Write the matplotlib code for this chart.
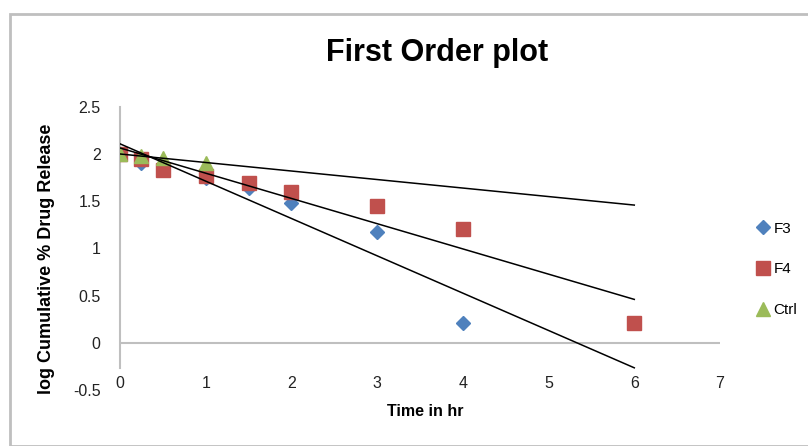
import matplotlib
matplotlib.use("Agg")
import matplotlib.pyplot as plt
import numpy as np
from matplotlib.patches import Rectangle

# Data
t_f3 = [0, 0.25, 0.5, 1, 1.5, 2, 3, 4]
y_f3 = [2.0, 1.91, 1.86, 1.75, 1.64, 1.48, 1.18, 0.21]
t_f4 = [0, 0.25, 0.5, 1, 1.5, 2, 3, 4, 6]
y_f4 = [2.0, 1.95, 1.83, 1.77, 1.69, 1.60, 1.45, 1.21, 0.21]
t_ctrl = [0, 0.25, 0.5, 1]
y_ctrl = [2.0, 1.98, 1.96, 1.91]
x_ticks = [0, 1, 2, 3, 4, 5, 6, 7]
y_ticks = [-0.5, 0, 0.5, 1, 1.5, 2, 2.5]
trend_end = 6

FONT = ['Liberation Sans', 'DejaVu Sans']
plt.rcParams['font.family'] = FONT

W, H = 808, 446
fig = plt.figure(figsize=(W / 100, H / 100), dpi=100)

# chart border
fig.add_artist(Rectangle((10 / W, 0), 1.2, 1 - 14 / H, transform=fig.transFigure,
                         fill=False, edgecolor='#BFBFBF', linewidth=2))

ax = fig.add_axes([120 / W, 1 - 390 / H, 600 / W, 283 / H])
ax.set_xlim(0, 7)
ax.set_ylim(-0.5, 2.5)

for s in ['top', 'right', 'bottom']:
    ax.spines[s].set_visible(False)
ax.spines['left'].set_color('#BFBFBF')
ax.spines['left'].set_linewidth(1.5)
ax.spines['left'].set_bounds(-0.27, 2.5)
ax.axhline(0, color='#BFBFBF', linewidth=1.5, zorder=1)

ax.set_xticks(x_ticks)
ax.set_yticks(y_ticks)
ax.set_yticklabels([f"{v:g}" for v in y_ticks])
ax.tick_params(axis='both', length=0, labelsize=11.5, colors='#222222')
ax.tick_params(axis='x', pad=-10)
ax.tick_params(axis='y', pad=14)

c3, c4, cc = '#4F81BD', '#C0504D', '#9BBB59'
ax.plot(t_f3, y_f3, linestyle='none', marker='D', markersize=7.5, color=c3,
        label='F3', zorder=3)
ax.plot(t_f4, y_f4, linestyle='none', marker='s', markersize=10, color=c4,
        label='F4', zorder=3)
ax.plot(t_ctrl, y_ctrl, linestyle='none', marker='^', markersize=10, color=cc,
        label='Ctrl', zorder=4)

xx = np.array([0, trend_end])
for t, y in [(t_ctrl, y_ctrl), (t_f4, y_f4), (t_f3, y_f3)]:
    m, b = np.polyfit(t, y, 1)
    ax.plot(xx, m * xx + b, color='black', linewidth=1.1, zorder=5)

fig.text(437 / W, 1 - 53 / H, 'First Order plot', ha='center', va='center',
         fontsize=22, fontweight='bold')
fig.text(425 / W, 1 - 412 / H, 'Time in hr', ha='center', va='center',
         fontsize=11.5, fontweight='bold')
fig.text(47 / W, 1 - 259 / H, 'log Cumulative % Drug Release', ha='center',
         va='center', rotation=90, fontsize=13, fontweight='bold')

leg = fig.legend(loc='upper left', bbox_to_anchor=(740 / W, 1 - 208 / H),
                 frameon=False, fontsize=11, handletextpad=0.1,
                 labelspacing=1.75, handlelength=1.2)

fig.savefig('out.png', dpi=100)
